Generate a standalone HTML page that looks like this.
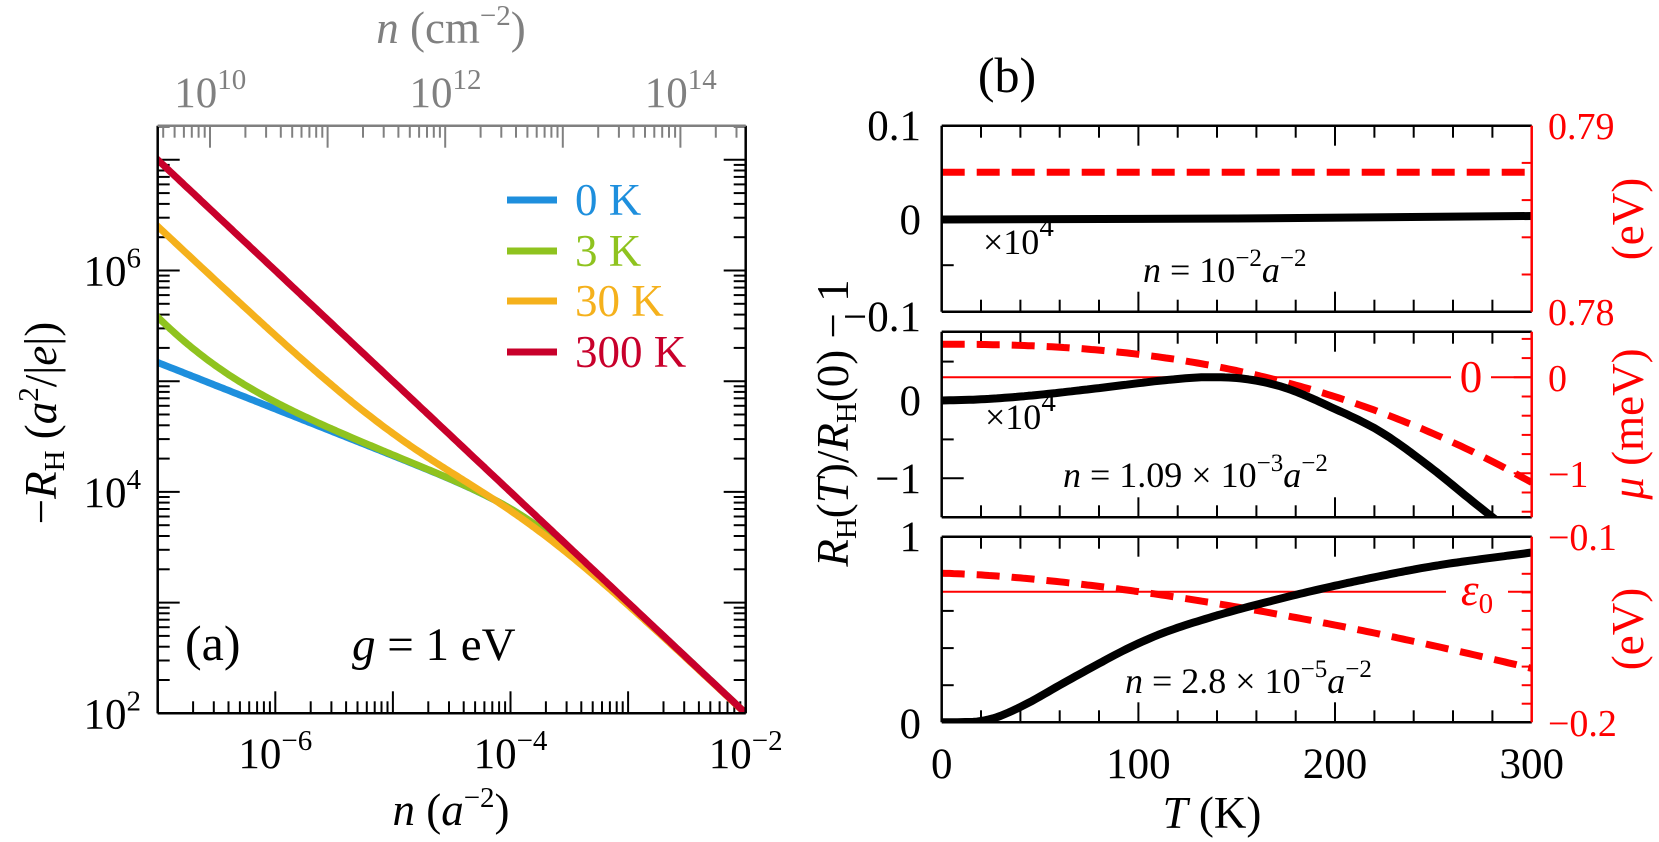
<!DOCTYPE html>
<html><head><meta charset="utf-8"><style>
html,body{margin:0;padding:0;background:#fff;}
svg{display:block;}
text{font-family:"Liberation Serif","DejaVu Serif",serif;}
</style></head><body>
<svg id="s" xmlns="http://www.w3.org/2000/svg" width="1659" height="842" viewBox="0 0 1659 842">
<defs>
<clipPath id="ca"><rect x="157.7" y="125.7" width="588" height="587.6"/></clipPath>
<clipPath id="c1"><rect x="941.7" y="125.7" width="590" height="186"/></clipPath>
<clipPath id="c2"><rect x="941.7" y="331.7" width="590" height="185.6"/></clipPath>
<clipPath id="c3"><rect x="941.7" y="536.7" width="590" height="185.6"/></clipPath>
</defs>
<g id="g"></g>
</svg>
<script>
var G=document.getElementById('g');var out='';
function L(x1,y1,x2,y2,c,w){out+='<line x1="'+x1.toFixed(1)+'" y1="'+y1.toFixed(1)+'" x2="'+x2.toFixed(1)+'" y2="'+y2.toFixed(1)+'" stroke="'+c+'" stroke-width="'+w+'"/>';}
function P(pts,c,w,clip,dash){var d='M'+pts.map(function(p){return p[0].toFixed(1)+','+p[1].toFixed(1)}).join('L');out+='<path d="'+d+'" fill="none" stroke="'+c+'" stroke-width="'+w+'" stroke-linejoin="round"'+(dash?' stroke-dasharray="'+dash+'"':'')+(clip?' clip-path="url(#'+clip+')"':'')+'/>';}
function T(x,y,s,o){o=o||{};out+='<text x="'+x+'" y="'+y+'" font-size="'+(o.fs||43)+'" fill="'+(o.c||'#000')+'" text-anchor="'+(o.a||'start')+'"'+(o.r?' transform="rotate(-90 '+x+' '+y+')"':'')+'>'+s+'</text>';}
function pw(e){return '10<tspan font-size="29" dy="-18">'+e+'</tspan>';}
var M='\u2212';
function cr(pts,t){ // catmull-rom interpolation
 var n=pts.length;for(var i=0;i<n-1;i++){if(t<=pts[i+1][0]||i==n-2){
 var p0=pts[Math.max(i-1,0)],p1=pts[i],p2=pts[i+1],p3=pts[Math.min(i+2,n-1)];
 var h=p2[0]-p1[0],u=(t-p1[0])/h;
 var m1=(p2[1]-p0[1])/(p2[0]-p0[0])*h,m2=(p3[1]-p1[1])/(p3[0]-p1[0])*h;
 var u2=u*u,u3=u2*u;
 return (2*u3-3*u2+1)*p1[1]+(u3-2*u2+u)*m1+(-2*u3+3*u2)*p2[1]+(u3-u2)*m2;}}
}
// ---------- Panel a ----------
function XA(lx){return 157.7+(lx+7)*117.6;}
function YA(ly){return 713.3-(ly-2)*110.7;}
var ax0=157.7,ax1=745.7,ay0=125.7,ay1=713.3;
for(var d=-7;d<=-2;d++){for(var k=1;k<10;k++){var x=XA(d+Math.log10(k));if(x>ax1+0.5)break;var len=k==1?22:12;L(x,ay1,x,ay1-len,'#000',2);}}
for(var d=2;d<=7;d++){for(var k=1;k<10;k++){var y=YA(d+Math.log10(k));if(y<ay0-0.5)break;var len=k==1?22:12;L(ax0,y,ax0+len,y,'#000',2);L(ax1,y,ax1-len,y,'#000',2);}}
for(var d=9;d<=16;d++){for(var k=1;k<10;k++){var lx=d+Math.log10(k)-16.555;var x=XA(lx);if(x<ax0-0.5||x>ax1+0.5)continue;var len=k==1?22:12;L(x,ay0,x,ay0+len,'#808080',2);}}
var R=[],O=[],B=[],Gr=[];
for(var lx=-7.05;lx<=-1.95;lx+=0.02){var n=Math.pow(10,lx);
R.push([XA(lx),YA(-lx)]);
var a=1.89e-5;O.push([XA(lx),YA(-lx+Math.log10((n+a)/(n+4*a)))]);
var cn=5.9e-3*Math.pow(n,0.42);var rb=1/Math.cbrt(n*n*n+cn*cn*cn);B.push([XA(lx),YA(Math.log10(rb))]);
Gr.push([XA(lx),YA(Math.log10(rb*(1+1.57e-7/n)))]);}
P(B,'#1e8fdd',7,'ca');P(Gr,'#8fc31f',7,'ca');P(O,'#f5b11c',7,'ca');P(R,'#c8002b',7,'ca');
L(ax0,ay1,ax1,ay1,'#000',2.5);L(ax0,ay0,ax0,ay1,'#000',2.5);L(ax1,ay0,ax1,ay1,'#000',2.5);L(ax0,ay0,ax1,ay0,'#808080',2.5);
var leg=[['0 K','#1e8fdd',200],['3 K','#8fc31f',251],['30 K','#f5b11c',301],['300 K','#c8002b',352]];
leg.forEach(function(l){L(507,l[2],557,l[2],l[1],7);T(575,l[2]+15,l[0],{c:l[1],fs:45});});
[-6,-4,-2].forEach(function(e){T(XA(e),768,pw(M+(-e)),{a:'middle'});});
[2,4,6].forEach(function(e){T(141,YA(e)+15,pw(e),{a:'end'});});
[[10,210.3],[12,445.5],[14,680.7]].forEach(function(v){T(v[1],107,pw(v[0]),{a:'middle',c:'#808080'});});
T(451,43,'<tspan font-style="italic">n</tspan>   (cm<tspan font-size="29" dy="-18">'+M+'2</tspan><tspan dy="18">)</tspan>',{a:'middle',c:'#808080',fs:45});
T(451,825,'<tspan font-style="italic">n</tspan>   (<tspan font-style="italic">a</tspan><tspan font-size="29" dy="-18">'+M+'2</tspan><tspan dy="18">)</tspan>',{a:'middle',fs:45});
T(56,423,M+'<tspan font-style="italic">R</tspan><tspan font-size="29" dy="8">H</tspan><tspan dy="-8">   (</tspan><tspan font-style="italic">a</tspan><tspan font-size="29" dy="-18">2</tspan><tspan dy="18">/|</tspan><tspan font-style="italic">e</tspan>|)',{a:'middle',r:1,fs:45});
T(185,660,'(a)',{fs:50});
T(352,660,'<tspan font-style="italic">g</tspan> = 1 eV',{fs:47});
// ---------- Panel b ----------
function XB(t){return 941.7+t*1.9667;}
var bx0=941.7,bx1=1531.7;
var pan=[[125.7,311.7],[331.7,517.3],[536.7,722.3]];
pan.forEach(function(p){for(var t=20;t<300;t+=20){var len=(t%100==0)?20:12;L(XB(t),p[0],XB(t),p[0]+len,'#000',2);L(XB(t),p[1],XB(t),p[1]-len,'#000',2);}});
// p1
function Y1(v){return 218.7-v*930;}
[0.05,-0.05].forEach(function(v){L(bx0,Y1(v),bx0+12,Y1(v),'#000',2);});
for(var i=0;i<=5;i++){var y=125.7+i*37.2;L(bx1,y,bx1-10,y,'#f00',2);}
P([[bx0,172.3],[bx1,172.3]],'#f00',7,'c1','23 12');
P([[bx0,219.5],[XB(150),218.5],[bx1,216]],'#000',8,'c1');
T(983,254,'×'+pw(4),{fs:36});
T(1143,282,'<tspan font-style="italic">n</tspan> = 10<tspan font-size="25" dy="-16">'+M+'2</tspan><tspan dy="16" font-style="italic">a</tspan><tspan font-size="25" dy="-16">'+M+'2</tspan>',{fs:36});
// p2
function Y2(v){return 400.5-v*77.7;}
[[0.5,12],[0,22],[-0.5,12],[-1,22]].forEach(function(v){L(bx0,Y2(v[0]),bx0+v[1],Y2(v[0]),'#000',2);});
for(var m=0.4;m>-1.5;m-=0.2){var y=377.3-m*96;if(y<331.7||y>517.3)continue;var big=Math.abs(m)<0.01||Math.abs(m+1)<0.01;L(bx1,y,bx1-(big?18:10),y,'#f00',2);}
L(bx0,377.3,1451,377.3,'#f00',2);L(1491,377.3,bx1,377.3,'#f00',2);
T(1471,392,'0',{c:'#f00',a:'middle',fs:45});
var bp2=[[0,0],[20,0.015],[44,0.06],[70,0.13],[96,0.21],[115,0.265],[135,0.30],[155,0.275],[175,0.16],[197.5,-0.08],[223,-0.40],[248,-0.85],[270,-1.3],[295,-1.8]];
var a2=[],m2=[];for(var t=0;t<=300;t+=2){a2.push([XB(t),Y2(cr(bp2,t))]);m2.push([XB(t),377.3-(0.344-1.73e-6*Math.pow(t,2.39))*96]);}
P(m2,'#f00',7,'c2','23 12');P(a2,'#000',8,'c2');
T(985,429,'×'+pw(4),{fs:36});
T(1063,487,'<tspan font-style="italic">n</tspan> = 1.09 × 10<tspan font-size="25" dy="-16">'+M+'3</tspan><tspan dy="16" font-style="italic">a</tspan><tspan font-size="25" dy="-16">'+M+'2</tspan>',{fs:36});
// p3
function Y3(v){return 722.3-v*185.6;}
[0.2,0.4,0.6,0.8].forEach(function(v){L(bx0,Y3(v),bx0+12,Y3(v),'#000',2);});
for(var i=0;i<=10;i++){var y=536.7+i*18.56;L(bx1,y,bx1-10,y,'#f00',2);}
L(bx0,591.7,1446,591.7,'#f00',2);L(1508,591.7,bx1,591.7,'#f00',2);
T(1477,605,'<tspan font-style="italic">ε</tspan><tspan font-size="29" dy="8">0</tspan>',{c:'#f00',a:'middle',fs:45});
var bp3=[[0,0],[10,0.001],[19.5,0.006],[30,0.035],[45,0.11],[60,0.2],[78.8,0.31],[95,0.40],[112.7,0.482],[135,0.56],[157,0.625],[197.5,0.73],[248,0.838],[300,0.915]];
var a3=[],m3=[];for(var t=0;t<=300;t+=2){a3.push([XB(t),Y3(cr(bp3,t))]);m3.push([XB(t),573.3+0.194*185.6*Math.pow(t/157,1.5)]);}
P(m3,'#f00',7,'c3','23 12');P(a3,'#000',8,'c3');
T(1125,693,'<tspan font-style="italic">n</tspan> = 2.8 × 10<tspan font-size="25" dy="-16">'+M+'5</tspan><tspan dy="16" font-style="italic">a</tspan><tspan font-size="25" dy="-16">'+M+'2</tspan>',{fs:36});
pan.forEach(function(p){L(bx0,p[0],bx1,p[0],'#000',2.5);L(bx0,p[1],bx1,p[1],'#000',2.5);L(bx0,p[0],bx0,p[1],'#000',2.5);L(bx1,p[0],bx1,p[1],'#f00',2.5);});
T(921,140,'0.1',{a:'end'});T(921,234,'0',{a:'end'});T(921,331,M+'0.1',{a:'end'});
T(921,415,'0',{a:'end'});T(921,493,M+'1',{a:'end'});
T(921,551,'1',{a:'end'});T(921,738,'0',{a:'end'});
var rc={c:'#f00',fs:38};
T(1548,139,'0.79',rc);T(1548,325,'0.78',rc);T(1548,391,'0',rc);T(1548,487,M+'1',rc);T(1548,550,M+'0.1',rc);T(1548,736,M+'0.2',rc);
T(1643,219,'(eV)',{c:'#f00',a:'middle',r:1,fs:45});
T(1643,424,'<tspan font-style="italic">μ</tspan>   (meV)',{c:'#f00',a:'middle',r:1,fs:45});
T(1643,629,'(eV)',{c:'#f00',a:'middle',r:1,fs:45});
[0,100,200,300].forEach(function(t){T(XB(t),778,''+t,{a:'middle'});});
T(1212,828,'<tspan font-style="italic">T</tspan>    (K)',{a:'middle',fs:45});
T(848,423,'<tspan font-style="italic">R</tspan><tspan font-size="29" dy="8">H</tspan><tspan dy="-8">(</tspan><tspan font-style="italic">T</tspan>)/<tspan font-style="italic">R</tspan><tspan font-size="29" dy="8">H</tspan><tspan dy="-8">(0) '+M+' 1</tspan>',{a:'middle',r:1,fs:45});
T(1007,92,'(b)',{a:'middle',fs:50});
G.innerHTML=out;
</script>
</body></html>
